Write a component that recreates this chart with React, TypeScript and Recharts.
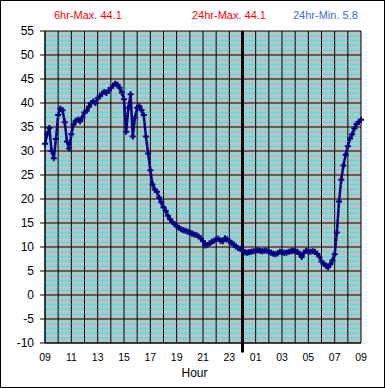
import React from 'react';
import { LineChart, Line, XAxis, YAxis, CartesianGrid, ReferenceLine } from 'recharts';

// Hour-of-day labels shown every 2 hours, starting 09:00
const hourLabels = ['09', '11', '13', '15', '17', '19', '21', '23', '01', '03', '05', '07', '09'];
// hours elapsed since 09:00 where vertical grid lines sit
const hourTicks = [0, 1, 2, 3, 4, 5, 6, 7, 8, 9, 10, 11, 12, 13, 14, 15, 16, 17, 18, 19, 20, 21, 22, 23, 24];
const yTicks = [-10, -5, 0, 5, 10, 15, 20, 25, 30, 35, 40, 45, 50, 55];
const minorY = [
  -9, -8, -7, -6, -4, -3, -2, -1, 1, 2, 3, 4, 6, 7, 8, 9, 11, 12, 13, 14, 16, 17, 18, 19,
  21, 22, 23, 24, 26, 27, 28, 29, 31, 32, 33, 34, 36, 37, 38, 39, 41, 42, 43, 44, 46, 47, 48, 49,
  51, 52, 53, 54,
];
const midnightHour = 15;

const titles = ['6hr-Max. 44.1', '24hr-Max. 44.1', '24hr-Min. 5.8'];

// temperature readings every 10 minutes from 09:00 to 09:00 next day
const temps = [
  31.5, 33.5, 34.8, 30, 28.5, 32.5,
  37.5, 38.8, 38.5, 36, 32, 30.5,
  33.5, 35.5, 36.3, 36.5, 36.2, 37,
  38, 38.4, 39.2, 40, 40.3, 40,
  41, 41.4, 42, 42.3, 42.1, 42.6,
  43.1, 43.6, 44, 43.8, 43.2, 42.2,
  40.8, 34, 39, 41.8, 33, 37,
  39, 39.3, 38.5, 37.5, 33, 29.5,
  26, 23, 22, 21.5, 20.3, 19.3,
  18.3, 17.5, 16.5, 15.8, 15.2, 14.8,
  14.3, 14, 13.7, 13.5, 13.4, 13.2,
  13, 12.8, 12.6, 12.5, 12.2, 11.8,
  11.2, 10.3, 10.4, 10.8, 11.1, 11.3,
  11.6, 11.7, 11.3, 11.2, 11.8, 11.6,
  11.2, 10.9, 10.5, 10.1, 9.8, 9.6,
  9.3, 8.9, 8.8, 8.9, 9.0, 9.1,
  9.2, 9.3, 9.2, 9.1, 9.2, 9.2,
  9.0, 8.8, 8.6, 8.5, 8.7, 9.0,
  8.9, 8.8, 8.8, 9.0, 9.1, 9.2,
  9.1, 9.0, 8.6, 7.9, 8.8, 9.2,
  9.0, 9.0, 9.1, 9.0, 8.6, 8.0,
  7.0, 6.5, 6.1, 5.8, 6.4, 7.2,
  8.5, 13, 19.5, 24, 27, 29.2,
  31, 32.6, 33.5, 34.7, 35.6, 36.1,
  36.5,
];
const stepHours = 1 / 6;

const data = temps.map((v, i) => ({ t: i * stepHours, v }));

const NAVY = '#000080';
const FONT = '"Liberation Sans", Arial, sans-serif';

const PlusDot = (props: any) => {
  const { cx, cy, index } = props;
  if (cx == null || cy == null) return null;
  return (
    <path
      key={`p${index}`}
      d={`M${cx - 3},${cy}H${cx + 3}M${cx},${cy - 3}V${cy + 3}`}
      stroke={NAVY}
      strokeWidth={2}
      fill="none"
    />
  );
};

export default function App() {
  return (
    <div style={{ position: 'absolute', left: 0, top: 0, width: 385, height: 388, background: '#fff' }}>
      <LineChart
        width={385}
        height={388}
        data={data}
        margin={{ top: 31, right: 24, bottom: 0, left: 0 }}
      >
        <CartesianGrid
          fill="#C0C0C0"
          fillOpacity={1}
          vertical={false}
          horizontalValues={minorY}
          stroke="#00FFFF"
          strokeOpacity={1}
        />
        <CartesianGrid
          stroke="#000000"
          strokeOpacity={1}
        />
        <XAxis
          dataKey="t"
          type="number"
          domain={[0, 24]}
          ticks={hourTicks}
          interval={0}
          tickFormatter={(h: number) => (h % 2 === 0 ? hourLabels[h / 2] : '')}
          tickLine={false}
          tickSize={0}
          tickMargin={11}
          height={45}
          axisLine={{ stroke: '#000' }}
          tick={{ fill: '#000', fontSize: 10.5, fontFamily: FONT }}
        />
        <YAxis
          type="number"
          domain={[-10, 55]}
          ticks={yTicks}
          interval={0}
          width={45}
          tickSize={5}
          tickMargin={6}
          tickLine={{ stroke: '#000' }}
          axisLine={{ stroke: '#000' }}
          tick={{ fill: '#000', fontSize: 12, fontFamily: FONT }}
        />
        <ReferenceLine
          segment={[
            { x: midnightHour, y: -12 },
            { x: midnightHour, y: 55 },
          ]}
          ifOverflow="visible"
          stroke="#000"
          strokeWidth={3}
        />
        <Line
          dataKey="v"
          type="linear"
          stroke={NAVY}
          strokeWidth={2.5}
          dot={PlusDot}
          activeDot={false}
          isAnimationActive={false}
        />
      </LineChart>
      <svg
        width={385}
        height={388}
        style={{ position: 'absolute', left: 0, top: 0, pointerEvents: 'none' }}
      >
        <text x={54} y={19} fill="#FF0000" fontSize={11} fontFamily={FONT}>{titles[0]}</text>
        <text x={192} y={19} fill="#FF0000" fontSize={11} fontFamily={FONT}>{titles[1]}</text>
        <text x={293} y={19} fill="#4169E1" fontSize={11} fontFamily={FONT}>{titles[2]}</text>
        <text x={194.5} y={377} fill="#000" fontSize={12} fontFamily={FONT} textAnchor="middle">Hour</text>
        <rect x={0.5} y={0.5} width={384} height={387} fill="none" stroke="#000" strokeWidth={1} />
      </svg>
    </div>
  );
}
